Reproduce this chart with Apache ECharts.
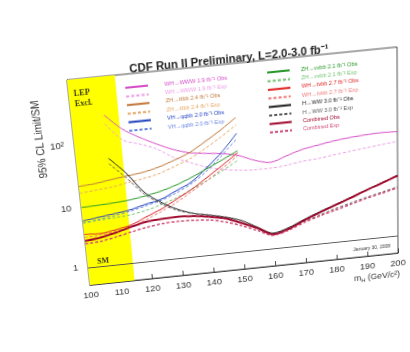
<!DOCTYPE html>
<html>
<head>
<meta charset="utf-8">
<script src="https://cdn.jsdelivr.net/npm/echarts@6/dist/echarts.min.js"></script>
<style>
  html, body { margin: 0; padding: 0; width: 410px; height: 352px; overflow: hidden; background: #fff; }
  #chart { position: absolute; left: 0; top: 0; width: 410px; height: 352px; }
</style>
</head>
<body>
<div id="chart"></div>
<script>
// masses (GeV/c^2)
var massLow = [100, 105, 110, 115, 120, 125, 130, 135, 140, 145, 150];
var massHigh = [110, 115, 120, 125, 130, 135, 140, 145, 150, 155, 160, 165, 170, 175, 180, 185, 190, 195, 200];
var massAll = [100, 105, 110, 115, 120, 125, 130, 135, 140, 145, 150, 155, 160, 165, 170, 175, 180, 185, 190, 195, 200];

// limits / SM
var wwwObs = [260, 150, 105, 78, 60, 50, 46, 43, 38, 30, 26, 31, 37, 41, 45, 48, 50, 51, 50];
var wwwExp = [190, 100, 82, 65, 45, 35, 28, 24, 22, 21, 21, 22, 24, 25, 27, 29, 31, 33, 35];
var llbbObs = [22, 23, 25, 27, 29, 33, 40, 50, 70, 100, 150];
var llbbExp = [17, 18, 19, 21, 23, 26, 32, 40, 55, 78, 115];
var qqbbObs = [6, 6.5, 7, 7.6, 8.8, 10, 13, 17, 27, 45, 85];
var qqbbExp = [5.5, 6, 6.5, 7.2, 8.3, 9.6, 12, 16, 24, 40, 70];
var metbbObs = [10, 10.2, 10.5, 11, 12, 13.5, 16, 20, 26, 34, 45];
var metbbExp = [5.6, 5.8, 6.0, 6.3, 7.0, 8.2, 10, 13, 17, 23, 32];
var lvbbObs = [3.6, 3.5, 3.8, 4.3, 5.5, 7, 9.5, 13, 19, 28, 42];
var lvbbExp = [3.2, 3.3, 3.6, 4.0, 5, 6.4, 8.5, 12, 17, 25, 38];
var hwwObs = [55, 30, 14, 9, 6.5, 5.2, 4.6, 4.0, 3.3, 2.4, 1.8, 2.1, 2.7, 3.4, 4.2, 5.2, 6.5, 8, 10];
var hwwExp = [45, 25, 13, 8.5, 6.2, 5.2, 4.6, 3.8, 3.0, 2.3, 1.75, 2.0, 2.5, 3.0, 3.6, 4.2, 4.9, 5.6, 6.5];
var combObs = [2.8, 3.0, 3.4, 4.0, 4.6, 4.8, 4.9, 4.7, 4.3, 3.8, 3.0, 2.3, 1.7, 2.0, 2.6, 3.3, 4.1, 5.1, 6.4, 7.9, 9.8];
var combExp = [2.5, 2.6, 2.9, 3.3, 3.7, 4.0, 4.1, 4.0, 3.8, 3.3, 2.7, 2.1, 1.65, 1.9, 2.4, 2.9, 3.4, 4.0, 4.7, 5.4, 6.2];

var xTicks = [100, 110, 120, 130, 140, 150, 160, 170, 180, 190, 200];
var yTicks = [1, 10, 100];
var lepLimit = 114.4;

var leftNames = ['WH\u2192WWW 1.9 fb\u207b\u00b9 Obs', 'WH\u2192WWW 1.9 fb\u207b\u00b9 Exp',
  'ZH\u2192\u2113\u2113bb 2.4 fb\u207b\u00b9 Obs', 'ZH\u2192\u2113\u2113bb 2.4 fb\u207b\u00b9 Exp',
  'VH\u2192qqbb 2.0 fb\u207b\u00b9 Obs', 'VH\u2192qqbb 2.0 fb\u207b\u00b9 Exp'];
var rightNames = ['ZH\u2192\u03bd\u03bdbb 2.1 fb\u207b\u00b9 Obs', 'ZH\u2192\u03bd\u03bdbb 2.1 fb\u207b\u00b9 Exp',
  'WH\u2192\u2113\u03bdbb 2.7 fb\u207b\u00b9 Obs', 'WH\u2192\u2113\u03bdbb 2.7 fb\u207b\u00b9 Exp',
  'H\u2192WW 3.0 fb\u207b\u00b9 Obs', 'H\u2192WW 3.0 fb\u207b\u00b9 Exp',
  'Combined Obs', 'Combined Exp'];

// plot box before the photo distortion, and where its corners land in the picture
var L = 60, T = 70, W = 320, H = 210;
var corners = [[67, 80], [397, 47], [398, 253], [90, 285]];

function pairs(xs, ys) {
  return xs.map(function (x, i) { return [x, ys[i]]; });
}

function curve(name, xs, ys, color, dashed, width) {
  return {
    name: name,
    type: 'line',
    data: pairs(xs, ys),
    symbol: 'none',
    smooth: 0.3,
    z: 3,
    lineStyle: { color: color, width: width || 1, type: dashed ? [3, 2] : 'solid' },
    itemStyle: { color: color }
  };
}

var lineColors = ['#d64fc8', '#eca0e6', '#c27a3e', '#e9a866', '#2242c0', '#6a86e2',
  '#2a9a2a', '#72c472', '#e02525', '#f07a7a', '#1e1e1e', '#5a5a5a', '#a0062c', '#d24a74'];

var series = [
  // LEP band and SM line
  {
    type: 'line', data: [], z: 1, silent: true,
    markArea: { silent: true, itemStyle: { color: '#ffff00' }, data: [[{ xAxis: 100 }, { xAxis: lepLimit }]] },
    markLine: { silent: true, symbol: 'none', label: { show: false },
      lineStyle: { color: '#555', width: 1, type: 'solid' }, data: [{ yAxis: 1 }] }
  },
  curve(leftNames[0], massHigh, wwwObs, lineColors[0], false),
  curve(leftNames[1], massHigh, wwwExp, lineColors[1], true),
  curve(leftNames[2], massLow, llbbObs, lineColors[2], false),
  curve(leftNames[3], massLow, llbbExp, lineColors[3], true),
  curve(leftNames[4], massLow, qqbbObs, lineColors[4], false),
  curve(leftNames[5], massLow, qqbbExp, lineColors[5], true),
  curve(rightNames[0], massLow, metbbObs, lineColors[6], false),
  curve(rightNames[1], massLow, metbbExp, lineColors[7], true),
  curve(rightNames[2], massLow, lvbbObs, lineColors[8], false),
  curve(rightNames[3], massLow, lvbbExp, lineColors[9], true),
  curve(rightNames[4], massHigh, hwwObs, lineColors[10], false),
  curve(rightNames[5], massHigh, hwwExp, lineColors[11], true),
  curve(rightNames[6], massAll, combObs, lineColors[12], false, 2),
  curve(rightNames[7], massAll, combExp, lineColors[13], true, 1.5)
];

function legendData(names, offset) {
  return names.map(function (n, i) { return { name: n, textStyle: { color: lineColors[offset + i] } }; });
}

var legendCommon = {
  orient: 'vertical', itemWidth: 22, itemHeight: 6, itemGap: 0.4,
  itemStyle: { opacity: 0, color: 'rgba(0,0,0,0)', borderColor: 'rgba(0,0,0,0)', borderWidth: 0 },
  textStyle: { fontSize: 5.5, lineHeight: 8, fontFamily: 'Liberation Sans' },
  selectedMode: false
};

var chart = echarts.init(document.getElementById('chart'), null, { renderer: 'canvas' });
chart.setOption({
  animation: false,
  backgroundColor: '#fff',
  textStyle: { fontFamily: 'Liberation Sans' },
  title: {
    text: 'CDF Run II Preliminary, L=2.0-3.0 fb\u207b\u00b9',
    left: L + W / 2 - 8, top: T - 15, textAlign: 'center',
    textStyle: { fontSize: 11, fontWeight: 'bold', color: '#222', fontFamily: 'Liberation Sans' }
  },
  grid: { left: L, top: T, width: W, height: H, show: true, borderColor: '#555', borderWidth: 1, backgroundColor: '#fff' },
  legend: [
    Object.assign({}, legendCommon, { left: L + 49, top: T + 4, data: legendData(leftNames, 0),
      textStyle: Object.assign({}, legendCommon.textStyle, { padding: [0, 0, 0, 11] }) }),
    Object.assign({}, legendCommon, { left: L + 187, top: T + 3, data: legendData(rightNames, 6),
      textStyle: Object.assign({}, legendCommon.textStyle, { padding: [0, 0, 0, 6] }) })
  ],
  xAxis: {
    type: 'value', min: 100, max: 200, interval: 10,
    axisLine: { lineStyle: { color: '#444' } },
    axisTick: { inside: true, length: 5, lineStyle: { color: '#444' } },
    axisLabel: { fontSize: 9.5, color: '#333', margin: 6, showMinLabel: true, showMaxLabel: true,
      customValues: xTicks },
    splitLine: { show: false }
  },
  yAxis: {
    type: 'log', logBase: 10, min: 0.5, max: 1000,
    axisLine: { show: true, lineStyle: { color: '#444' } },
    axisTick: { show: true, inside: true, length: 6, customValues: yTicks, lineStyle: { color: '#444' } },
    axisLabel: { fontSize: 9.5, color: '#333', margin: 10, customValues: yTicks,
      formatter: function (v) { return v >= 100 ? '10\u00b2' : String(v); } },
    splitLine: { show: false }
  },
  graphic: [
    { type: 'text', left: L + 5, top: T + 9, z: 10,
      style: { text: 'LEP\nExcl.', fontSize: 8, fontWeight: 'bold', lineHeight: 10, fill: '#3a3a10', fontFamily: 'Liberation Serif' } },
    { type: 'text', left: L + 10, top: T + H - 28, z: 10,
      style: { text: 'SM', fontSize: 8, fontWeight: 'bold', fill: '#3a3a10', fontFamily: 'Liberation Serif' } },
    { type: 'text', x: L - 33, y: T + 55, rotation: Math.PI / 2, z: 10,
      style: { text: '95% CL Limit/SM', fontSize: 10, fill: '#333', align: 'center', verticalAlign: 'middle', fontFamily: 'Liberation Sans' } },
    { type: 'text', x: L + W + 2, y: T + H + 18, z: 10,
      style: { text: 'm{s|H} (GeV/c\u00b2)', fontSize: 9, fill: '#333', align: 'right', verticalAlign: 'top', fontFamily: 'Liberation Sans',
        rich: { s: { fontSize: 6, padding: [5, 0, 0, 0], fill: '#333' } } } },
    { type: 'text', x: L + W - 8, y: T + H - 6, z: 10,
      style: { text: 'January 30, 2008', fontSize: 5, fill: '#333', align: 'right', verticalAlign: 'bottom', fontFamily: 'Liberation Sans' } }
  ],
  series: series
});

// tilt the flat chart like the photographed page: map the plot box onto the four corners
function squareToQuad(p) {
  var x0 = p[0][0], y0 = p[0][1], x1 = p[1][0], y1 = p[1][1];
  var x2 = p[2][0], y2 = p[2][1], x3 = p[3][0], y3 = p[3][1];
  var dx1 = x1 - x2, dx2 = x3 - x2, dx3 = x0 - x1 + x2 - x3;
  var dy1 = y1 - y2, dy2 = y3 - y2, dy3 = y0 - y1 + y2 - y3;
  var den = dx1 * dy2 - dx2 * dy1;
  var g = (dx3 * dy2 - dx2 * dy3) / den;
  var h = (dx1 * dy3 - dx3 * dy1) / den;
  return [
    [x1 - x0 + g * x1, x3 - x0 + h * x3, x0],
    [y1 - y0 + g * y1, y3 - y0 + h * y3, y0],
    [g, h, 1]
  ];
}
var Q = squareToQuad(corners);
var S = [[1 / W, 0, -L / W], [0, 1 / H, -T / H], [0, 0, 1]];
var M = [[0, 0, 0], [0, 0, 0], [0, 0, 0]];
for (var i = 0; i < 3; i++) {
  for (var j = 0; j < 3; j++) {
    for (var k = 0; k < 3; k++) M[i][j] += Q[i][k] * S[k][j];
  }
}
var el = document.getElementById('chart');
el.style.transformOrigin = '0 0';
el.style.transform = 'matrix3d(' + [M[0][0], M[1][0], 0, M[2][0], M[0][1], M[1][1], 0, M[2][1],
  0, 0, 1, 0, M[0][2], M[1][2], 0, M[2][2]].join(',') + ')';
</script>
</body>
</html>
